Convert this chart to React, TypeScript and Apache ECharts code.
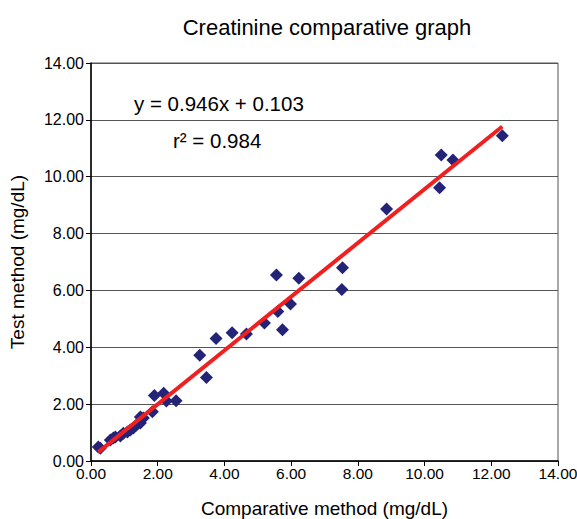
import React, { useEffect, useRef } from "react";
import * as echarts from "echarts";

const comparative = [0.22, 0.28, 0.58, 0.67, 0.73, 0.88, 0.97, 1.09, 1.18, 1.27, 1.36, 1.48, 1.57, 1.48, 1.84, 1.9, 2.18, 2.26, 2.55, 3.26, 3.46, 3.75, 4.23, 4.66, 5.2, 5.56, 5.6, 5.74, 5.98, 6.23, 7.54, 7.52, 8.86, 10.5, 10.85, 10.45, 12.33];
const testMethod = [0.49, 0.45, 0.74, 0.81, 0.84, 0.88, 0.98, 1.02, 1.09, 1.16, 1.27, 1.34, 1.51, 1.55, 1.73, 2.3, 2.38, 2.11, 2.12, 3.72, 2.94, 4.31, 4.51, 4.47, 4.85, 6.54, 5.26, 4.62, 5.52, 6.43, 6.8, 6.03, 8.86, 10.76, 10.59, 9.61, 11.44];
const slope = 0.946;
const intercept = 0.103;
const rSquared = 0.984;
const axisTicks = [0, 2, 4, 6, 8, 10, 12, 14];

export default function App() {
  const ref = useRef<HTMLDivElement>(null);
  useEffect(() => {
    if (!ref.current) return;
    const chart = echarts.init(ref.current, null, { renderer: "svg" });
    const pts = comparative.map((x, i) => [x, testMethod[i]]);
    const xMin = Math.min(...comparative);
    const xMax = Math.max(...comparative);
    const font = "'Liberation Sans', Arial, sans-serif";
    chart.setOption({
      animation: false,
      title: {
        text: "Creatinine comparative graph",
        left: 322,
        textAlign: "center",
        top: 11,
        textStyle: { fontFamily: font, fontSize: 22, fontWeight: "normal", color: "#000" },
      },
      grid: {
        left: 91,
        right: 19,
        top: 63,
        bottom: 58,
        containLabel: false,
        outerBoundsMode: "none",
        show: true,
        borderColor: "#555",
        borderWidth: 1,
      },
      xAxis: {
        type: "value",
        min: axisTicks[0],
        max: axisTicks[axisTicks.length - 1],
        interval: 2,
        name: "Comparative method (mg/dL)",
        nameLocation: "middle",
        nameGap: 38,
        nameTextStyle: { fontFamily: font, fontSize: 19, color: "#000" },
        axisLine: { show: true, lineStyle: { color: "#000", width: 1.5 } },
        axisTick: { show: true, length: 5, lineStyle: { color: "#000" } },
        axisLabel: { fontFamily: font, fontSize: 15.5, color: "#000", margin: 4, formatter: (v: number) => v.toFixed(2) },
        splitLine: { show: false },
      },
      yAxis: {
        type: "value",
        min: axisTicks[0],
        max: axisTicks[axisTicks.length - 1],
        interval: 2,
        name: "Test method (mg/dL)",
        nameLocation: "middle",
        nameGap: 64,
        nameTextStyle: { fontFamily: font, fontSize: 19, color: "#000" },
        axisLine: { show: true, lineStyle: { color: "#000", width: 1.5 } },
        axisTick: { show: true, length: 5, lineStyle: { color: "#000" } },
        axisLabel: { fontFamily: font, fontSize: 16, color: "#000", margin: 7, formatter: (v: number) => v.toFixed(2) },
        splitLine: { show: true, lineStyle: { color: "#555", width: 1 } },
      },
      series: [
        {
          type: "scatter",
          data: pts,
          symbol: "diamond",
          symbolSize: 13,
          itemStyle: { color: "#232378", opacity: 1 },
          z: 2,
        },
        {
          type: "line",
          data: [
            [xMin, slope * xMin + intercept],
            [xMax, slope * xMax + intercept],
          ],
          symbol: "none",
          lineStyle: { color: "#f02020", width: 4 },
          z: 3,
        },
      ],
      graphic: [
        {
          type: "text",
          left: 134,
          top: 93,
          style: { text: `y = ${slope.toFixed(3)}x + ${intercept.toFixed(3)}`, fontFamily: font, fontSize: 20.5, fill: "#000" },
        },
        {
          type: "text",
          left: 173,
          top: 130,
          style: { text: `r² = ${rSquared.toFixed(3)}`, fontFamily: font, fontSize: 20.5, fill: "#000" },
        },
      ],
    });
    return () => chart.dispose();
  }, []);
  return <div ref={ref} style={{ position: "absolute", left: 0, top: 0, width: 577, height: 519 }} />;
}
